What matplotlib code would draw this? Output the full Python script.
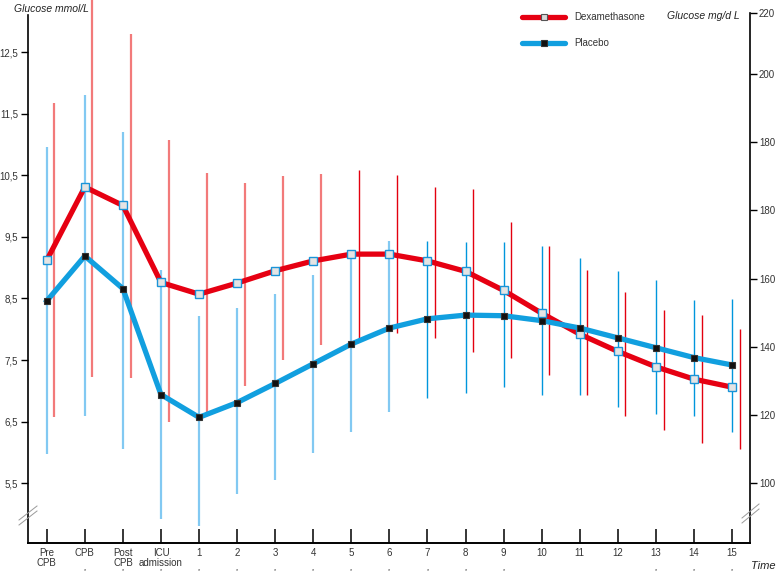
import numpy as np
import matplotlib
matplotlib.use('Agg')
import matplotlib.pyplot as plt
from matplotlib.lines import Line2D
import matplotlib.transforms as mtransforms

plt.rcParams['font.family'] = ['Liberation Sans', 'DejaVu Sans']

time_labels = ['Pre\nCPB', 'CPB', 'Post\nCPB', 'ICU\nadmission', '1', '2', '3', '4', '5',
               '6', '7', '8', '9', '10', '11', '12', '13', '14', '15']
dexa_mean = [9.12, 10.31, 10.01, 8.76, 8.57, 8.75, 8.95, 9.11, 9.22, 9.22, 9.11, 8.94,
             8.63, 8.26, 7.92, 7.64, 7.39, 7.19, 7.06]
dexa_hi = [11.67, 13.35, 12.79, 11.07, 10.54, 10.38, 10.49, 10.52, 10.59, 10.50, 10.31,
           10.27, 9.74, 9.36, 8.97, 8.61, 8.31, 8.23, 8.01]
dexa_lo = [6.57, 7.23, 7.21, 6.50, 6.64, 7.08, 7.50, 7.75, 7.80, 7.94, 7.86, 7.63, 7.53,
           7.26, 6.93, 6.59, 6.37, 6.16, 6.06]
plac_mean = [8.46, 9.19, 8.66, 6.94, 6.57, 6.81, 7.12, 7.44, 7.76, 8.02, 8.17, 8.23, 8.22,
             8.14, 8.02, 7.86, 7.70, 7.54, 7.42]
plac_hi = [10.96, 11.80, 11.21, 8.96, 8.22, 8.35, 8.58, 8.88, 9.26, 9.43, 9.43, 9.41, 9.41,
           9.36, 9.15, 8.95, 8.80, 8.48, 8.49]
plac_lo = [5.98, 6.60, 6.06, 4.92, 4.81, 5.33, 5.56, 5.99, 6.33, 6.66, 6.88, 6.96, 7.07,
           6.93, 6.93, 6.74, 6.62, 6.60, 6.34]
significant = [False] + [True] * 12 + [False] * 3 + [True] * 3

left_ticks = [5.5, 6.5, 7.5, 8.5, 9.5, 10.5, 11.5, 12.5]
left_tick_labels = ['5,5', '6,5', '7,5', '8,5', '9,5', '10,5', '11,5', '12,5']
right_tick_labels = ['100', '120', '140', '160', '180', '180', '200', '220']
right_tick_pos = [5.5, 6.61, 7.71, 8.82, 9.94, 11.04, 12.14, 13.13]

W, H = 777, 573
fig = plt.figure(figsize=(W / 100, H / 100), dpi=100)
ax = fig.add_axes([27.7 / W, 30 / H, (750 - 27.7) / W, (543 - 13) / H])

x = np.arange(len(time_labels))
ymin, ymax = 4.53, 13.135
ax.set_xlim(-0.5, 18.47)
ax.set_ylim(ymin, ymax)

# error bars
red_light, red_dark = '#f27a7a', '#e3000f'
blue_light, blue_dark = '#82c9f2', '#0096dc'
for i in range(len(x)):
    light_b = i <= 9
    ax.vlines(x[i], plac_lo[i], plac_hi[i], colors=blue_light if light_b else blue_dark,
              linewidth=1.6 if light_b else 1.0, zorder=2, clip_on=False)
    light_r = i <= 7
    ax.vlines(x[i] + 0.2, dexa_lo[i], dexa_hi[i], colors=red_light if light_r else red_dark,
              linewidth=1.6 if light_r else 1.0, zorder=2, clip_on=False)

# lines
ax.plot(x, dexa_mean, color='#e60012', linewidth=3.8, zorder=3, solid_joinstyle='round')
ax.plot(x, plac_mean, color='#119fdf', linewidth=3.8, zorder=4, solid_joinstyle='round')
ax.plot(x, dexa_mean, linestyle='none', marker='s', markersize=5.2,
        markerfacecolor='#e4e4e4', markeredgecolor='#1a94d8', markeredgewidth=1.0, zorder=6)
ax.plot(x, plac_mean, linestyle='none', marker='s', markersize=5.0,
        markerfacecolor='#111111', markeredgecolor='#333333', markeredgewidth=0.8, zorder=6)

# axes styling
ax.spines['top'].set_visible(False)
ax.spines['right'].set_visible(False)
ax.spines['left'].set_linewidth(1.2)
ax.spines['bottom'].set_linewidth(1.4)
ax.spines['left'].set_bounds(ymin, 13.10)

ax.set_xticks(x)
ax.set_xticklabels(time_labels, fontsize=7, color='#333333', linespacing=1.0)
ax.tick_params(axis='x', direction='in', length=10, width=1.1, pad=3.5, color='black')
ax.set_yticks(left_ticks)
ax.set_yticklabels(left_tick_labels, fontsize=7, color='#333333')
ax.tick_params(axis='y', direction='out', length=5, width=1.0, pad=2)

ax2 = ax.twinx()
ax2.set_ylim(ymin, ymax)
for s in ['top', 'left', 'bottom']:
    ax2.spines[s].set_visible(False)
ax2.spines['right'].set_linewidth(1.2)
ax2.set_yticks(right_tick_pos)
ax2.set_yticklabels(right_tick_labels, fontsize=7, color='#333333')
ax2.tick_params(axis='y', direction='out', length=5, width=1.0, pad=1.5)

# significance asterisks
trans = mtransforms.blended_transform_factory(ax.transData, ax.transAxes)
for i, sig in enumerate(significant):
    if sig:
        ax.text(x[i], -0.0562, '*', transform=trans, ha='center', va='bottom',
                fontsize=4, color='#333333')

# axis titles
fig.text(14 / W, 1 - 9 / H, 'Glucose mmol/L', fontsize=7.5, style='italic',
         ha='left', va='center', color='#222222')
fig.text(740 / W, 1 - 16 / H, 'Glucose mg/d L', fontsize=7.5, style='italic',
         ha='right', va='center', color='#222222')
fig.text(776 / W, 1 - 566 / H, 'Time', fontsize=8, style='italic',
         ha='right', va='center', color='#222222')

# axis break marks
for (x0, y0, x1, y1) in [(19, 520, 37, 506), (19, 525, 37, 511),
                         (742, 518, 759, 504), (742, 523, 759, 509)]:
    fig.add_artist(Line2D([x0 / W, x1 / W], [1 - y0 / H, 1 - y1 / H],
                          transform=fig.transFigure, color='#9a9a9a', linewidth=0.7))

# legend (manual)
leg = [('Dexamethasone', '#e60012', '#d8d8d8', '#555555', 17),
       ('Placebo', '#119fdf', '#111111', '#333333', 43)]
for name, lc, fc, ec, yy in leg:
    fig.add_artist(Line2D([522 / W, 565 / W], [1 - yy / H, 1 - yy / H],
                          transform=fig.transFigure, color=lc, linewidth=3.8,
                          solid_capstyle='round'))
    fig.add_artist(Line2D([544 / W], [1 - yy / H], transform=fig.transFigure,
                          marker='s', markersize=5, markerfacecolor=fc,
                          markeredgecolor=ec, markeredgewidth=0.8, linestyle='none'))
    fig.text(574 / W, 1 - yy / H, name, fontsize=7, ha='left', va='center', color='#333333')

fig.savefig('out.png', dpi=100)
